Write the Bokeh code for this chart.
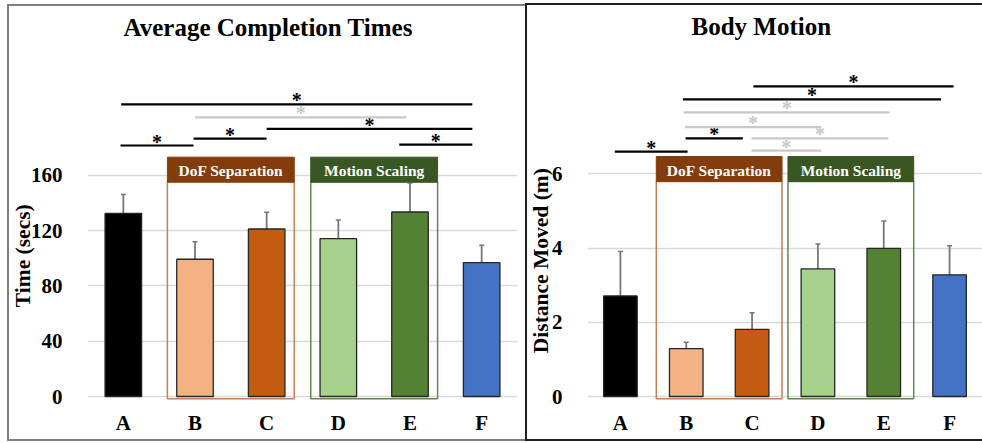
from bokeh.plotting import figure
from bokeh.layouts import row
from bokeh.models import (Range1d, FixedTicker, Whisker, TeeHead, ColumnDataSource)
from bokeh.core.properties import value
from bokeh.embed import file_html
from bokeh.resources import INLINE

# ---------------- data ----------------
categories = ["A", "B", "C", "D", "E", "F"]
bar_colors = ["#000000", "#F4B183", "#C55A11", "#A9D18E", "#548235", "#4472C4"]

time_means = [132.5, 99.3, 121.2, 114.2, 133.5, 96.9]
time_err = [13.7, 12.7, 12.2, 13.5, 21.0, 12.6]
time_ticks = [0, 40, 80, 120, 160]

dist_means = [2.71, 1.29, 1.81, 3.44, 3.99, 3.28]
dist_err = [1.20, 0.17, 0.45, 0.67, 0.74, 0.78]
dist_ticks = [0, 2, 4, 6]

# significance comparisons
time_sig_from = ["A", "B", "C", "E", "B", "A"]
time_sig_to = ["B", "C", "F", "F", "E", "F"]
time_sig_level = [181.6, 186.6, 193.6, 182.3, 202.0, 211.4]
time_sig_dark = [True, True, True, True, False, True]
time_sig_off0 = [-0.04, -0.02, 0.0, -0.15, 0.0, -0.03]
time_sig_off1 = [-0.02, 0.0, -0.13, -0.13, -0.05, -0.13]

dist_sig_from = ["A", "B", "C", "C", "B", "B", "B", "C"]
dist_sig_to = ["B", "C", "D", "E", "D", "E", "F", "F"]
dist_sig_level = [6.60, 6.96, 6.63, 6.96, 7.26, 7.66, 8.01, 8.36]
dist_sig_dark = [True, True, False, False, False, False, True, True]
dist_sig_off0 = [-0.085, -0.01, -0.01, -0.01, -0.02, -0.04, -0.05, 0.02]
dist_sig_off1 = [0.02, -0.14, 0.05, 0.07, 0.05, 0.09, -0.13, 0.06]

groups = ["DoF Separation", "Motion Scaling"]
group_first = ["B", "D"]
group_last = ["C", "E"]
group_fill = ["#843C0C", "#385723"]
group_line = ["#C0805A", "#5F8A4A"]

SERIF = "Liberation Serif"
NBSP = "\u00a0"


def xpos(cat):
    return categories.index(cat) + 0.5


def make_panel(title, ylabel, means, errs, ticks, px_per_unit, y_lo_px, y_hi_px,
               sig_from, sig_to, sig_level, sig_dark, off0, off1,
               width, height, mb_left, mb_right, mb_top, mb_bottom,
               title_offset, label_pad, label_standoff, box_pad,
               head_top_px, head_bot_px, box_bot_px, styles, margin):
    y_start = -y_lo_px / px_per_unit
    y_end = y_hi_px / px_per_unit
    p = figure(width=width, height=height, output_backend="svg", toolbar_location=None,
               x_range=Range1d(0, 6), y_range=Range1d(y_start, y_end),
               min_border_left=mb_left, min_border_right=mb_right,
               min_border_top=mb_top, min_border_bottom=mb_bottom,
               styles=styles, margin=margin)
    p.border_fill_alpha = 0
    p.background_fill_alpha = 0
    p.outline_line_color = None

    p.title.text = title
    p.title.text_font = SERIF
    p.title.text_font_style = "bold"
    p.title.text_font_size = "25px"
    p.title.text_color = "#000000"
    p.title.align = "left"
    p.title.offset = title_offset
    p.title.standoff = 11

    xs = [i + 0.5 for i in range(len(categories))]
    p.xaxis.ticker = FixedTicker(ticks=xs)
    p.xaxis.major_label_overrides = {x: c for x, c in zip(xs, categories)}
    p.yaxis.ticker = FixedTicker(ticks=ticks)
    for ax in (p.xaxis, p.yaxis):
        ax.axis_line_color = None
        ax.major_tick_line_color = None
        ax.minor_tick_line_color = None
        ax.major_label_text_font = SERIF
        ax.major_label_text_font_style = "bold"
        ax.major_label_text_font_size = "21px"
        ax.major_label_text_color = "#000000"
    p.xaxis.major_label_standoff = 4
    p.yaxis.major_label_standoff = 19
    p.yaxis.axis_label = ylabel + NBSP * label_pad
    p.yaxis.axis_label_text_font = SERIF
    p.yaxis.axis_label_text_font_style = "bold"
    p.yaxis.axis_label_text_font_size = "21.5px"
    p.yaxis.axis_label_text_color = "#000000"
    p.yaxis.axis_label_standoff = label_standoff

    p.xgrid.grid_line_color = None
    p.ygrid.grid_line_color = "#D9D9D9"
    p.ygrid.grid_line_width = 1.5

    # group boxes
    for g, f, l, fc, lc in zip(groups, group_first, group_last, group_fill, group_line):
        left = xpos(f) - box_pad
        right = xpos(l) + box_pad
        p.quad(left=left, right=right, bottom=-box_bot_px / px_per_unit,
               top=head_bot_px / px_per_unit, fill_color=None, line_color=lc, line_width=1.5)
        p.quad(left=left, right=right, bottom=head_bot_px / px_per_unit,
               top=head_top_px / px_per_unit, fill_color=fc, line_color=fc, line_width=1)
        p.text(x=[(left + right) / 2], y=[(head_bot_px + head_top_px) / 2 / px_per_unit],
               text=[g], text_align="center", text_baseline="middle",
               text_font=value(SERIF), text_font_style="bold", text_font_size="15.5px",
               text_color="#FFFFFF", y_offset=1)

    # bars
    src = ColumnDataSource(dict(x=xs, top=means, color=bar_colors,
                                upper=[m + e for m, e in zip(means, errs)],
                                lower=[m - e for m, e in zip(means, errs)]))
    p.vbar(x="x", top="top", width=0.51, bottom=0, fill_color="color",
           line_color="#262626", line_width=1.3, source=src)
    w = Whisker(base="x", upper="upper", lower="lower", source=src,
                line_color="#777777", line_width=1.8,
                upper_head=TeeHead(size=5, line_color="#777777", line_width=1.5),
                lower_head=TeeHead(size=5, line_color="#777777", line_width=1.5))
    p.add_layout(w)

    # significance lines
    for a, b, lev, dark, o0, o1 in zip(sig_from, sig_to, sig_level, sig_dark, off0, off1):
        col = "#000000" if dark else "#C8C8C8"
        x0 = xpos(a) + o0
        x1 = xpos(b) + o1
        p.segment(x0=[x0], y0=[lev], x1=[x1], y1=[lev], line_color=col, line_width=2.2)
        p.text(x=[(x0 + x1) / 2], y=[lev], text=["*"], text_align="center",
               text_baseline="alphabetic", text_font=value(SERIF), text_font_style="bold",
               text_font_size="20px", text_color=col, y_offset=-4)
    return p


shadow_l = ("inset 2px 0 0 0 #7F7F7F, inset 0 2px 0 0 #7F7F7F, inset 0 -2px 0 0 #7F7F7F")
shadow_r = ("inset 2px 0 0 0 #202020, inset 0 2px 0 0 #202020, inset 0 -2px 0 0 #202020")

p1 = make_panel("Average Completion Times", "Time (secs)", time_means, time_err, time_ticks,
                1.386, 4, 351,
                time_sig_from, time_sig_to, time_sig_level, time_sig_dark,
                time_sig_off0, time_sig_off1,
                width=518, height=437, mb_left=79, mb_right=8, mb_top=41, mb_bottom=41,
                title_offset=36, label_pad=12, label_standoff=-7, box_pad=0.385,
                head_top_px=240, head_bot_px=215, box_bot_px=2.3,
                styles={"box-shadow": shadow_l}, margin=(4, 0, 0, 7))

p2 = make_panel("Body Motion", "Distance Moved (m)", dist_means, dist_err, dist_ticks,
                37.1, 4, 351,
                dist_sig_from, dist_sig_to, dist_sig_level, dist_sig_dark,
                dist_sig_off0, dist_sig_off1,
                width=457, height=438, mb_left=60, mb_right=0, mb_top=42, mb_bottom=41,
                title_offset=104, label_pad=14, label_standoff=-4, box_pad=0.455,
                head_top_px=240, head_bot_px=215, box_bot_px=2.3,
                styles={"box-shadow": shadow_r}, margin=(3, 0, 0, 0))

layout = row(p1, p2)
open("out.html", "w").write(file_html(layout, INLINE))
